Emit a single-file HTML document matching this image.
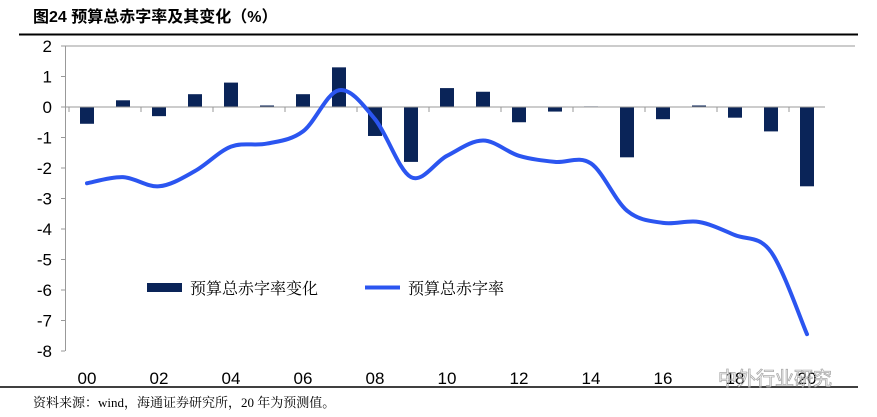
<!DOCTYPE html>
<html><head><meta charset="utf-8"><style>
body{margin:0;background:#fff;width:877px;height:417px;overflow:hidden;font-family:"Liberation Sans","Noto Sans CJK SC",sans-serif}
</style></head><body>
<svg width="877" height="417" style="position:absolute;left:0;top:0" font-family="Liberation Sans, Noto Sans CJK SC, sans-serif">
<text x="33" y="22" font-size="16" font-weight="bold" fill="#000">图24 预算总赤字率及其变化（%）</text>
<line x1="19" y1="34.5" x2="858" y2="34.5" stroke="#000" stroke-width="2"/>
<line x1="0" y1="387" x2="858" y2="387" stroke="#000" stroke-width="1.5"/>
<text x="33" y="407" font-size="13" fill="#000" font-family="Liberation Serif, Noto Serif CJK SC, serif">资料来源：wind，海通证券研究所，20 年为预测值。</text>
<g id="plot"></g>
<g font-family="Liberation Serif, Noto Serif CJK SC, serif">
<rect x="147" y="283" width="35" height="9" fill="#0a2458"/>
<text x="190" y="294" font-size="16">预算总赤字率变化</text>
<line x1="365" y1="287.5" x2="400" y2="287.5" stroke="#2b55f0" stroke-width="4"/>
<text x="408" y="294" font-size="16">预算总赤字率</text>
</g>
<text x="718" y="385" font-size="19" fill="none" stroke="#aaa" stroke-width="0.8">中外行业研究</text>
</svg>
<script>
const years=["00","01","02","03","04","05","06","07","08","09","10","11","12","13","14","15","16","17","18","19","20"];
const changeValues=[-0.55,0.22,-0.3,0.42,0.8,0.05,0.42,1.3,-0.95,-1.8,0.62,0.5,-0.5,-0.15,0.02,-1.65,-0.4,0.05,-0.35,-0.8,-2.6];
const deficitValues=[-2.5,-2.3,-2.6,-2.1,-1.3,-1.2,-0.8,0.55,-0.4,-2.3,-1.6,-1.1,-1.6,-1.8,-1.85,-3.4,-3.8,-3.77,-4.2,-4.75,-7.45];
const yTicks=[2,1,0,-1,-2,-3,-4,-5,-6,-7,-8];
const NS="http://www.w3.org/2000/svg";
const g=document.getElementById('plot');
const x0=69,step=36;
const xs=i=>x0+step*(i+0.5);
const ys=v=>107-v*30.5;
function mk(t,a){const e=document.createElementNS(NS,t);for(const k in a)e.setAttribute(k,a[k]);g.appendChild(e);return e;}
let gl=mk('line',{x1:65,y1:ys(2),x2:855,y2:ys(2),stroke:'#999','stroke-width':1});


let ya=mk('line',{x1:65.5,y1:ys(2),x2:65.5,y2:ys(-8),stroke:'#999','stroke-width':1});


yTicks.forEach(v=>{
 let t=mk('line',{x1:61,y1:ys(v),x2:65,y2:ys(v),stroke:'#999'});
 
 
 let l=mk('text',{x:52,y:ys(v)+6,'font-size':17,'text-anchor':'end',fill:'#000'});
 l.textContent=v;
 
 
});
years.forEach((y,i)=>{
 const v=changeValues[i];
 let b=mk('rect',{x:xs(i)-7,y:Math.min(ys(v),ys(0)),width:14,height:Math.abs(ys(v)-ys(0)),fill:'#0a2458'});
 
 
 if(i%2===0){
  let l=mk('text',{x:xs(i),y:384,'font-size':17,'text-anchor':'middle',fill:'#000'});
  l.textContent=y;
  
  
 }
});
let xa=mk('line',{x1:65,y1:ys(0),x2:x0+step*years.length,y2:ys(0),stroke:'#999'});


for(let i=0;i<=years.length;i+=2){
 let t=mk('line',{x1:x0+step*i,y1:ys(0),x2:x0+step*i,y2:ys(0)+5,stroke:'#999'});
 
 
}
const pts=deficitValues.map((v,i)=>[xs(i),ys(v)]);
let d='M'+pts[0][0]+','+pts[0][1];
for(let i=0;i<pts.length-1;i++){
 const p0=pts[Math.max(0,i-1)],p1=pts[i],p2=pts[i+1],p3=pts[Math.min(pts.length-1,i+2)];
 const c1=[p1[0]+(p2[0]-p0[0])/6,p1[1]+(p2[1]-p0[1])/6],c2=[p2[0]-(p3[0]-p1[0])/6,p2[1]-(p3[1]-p1[1])/6];
 d+=' C'+c1+' '+c2+' '+p2;
}
let ln=mk('path',{d:d,fill:'none',stroke:'#2b55f0','stroke-width':4,'stroke-linecap':'round'});


</script>
</body></html>
